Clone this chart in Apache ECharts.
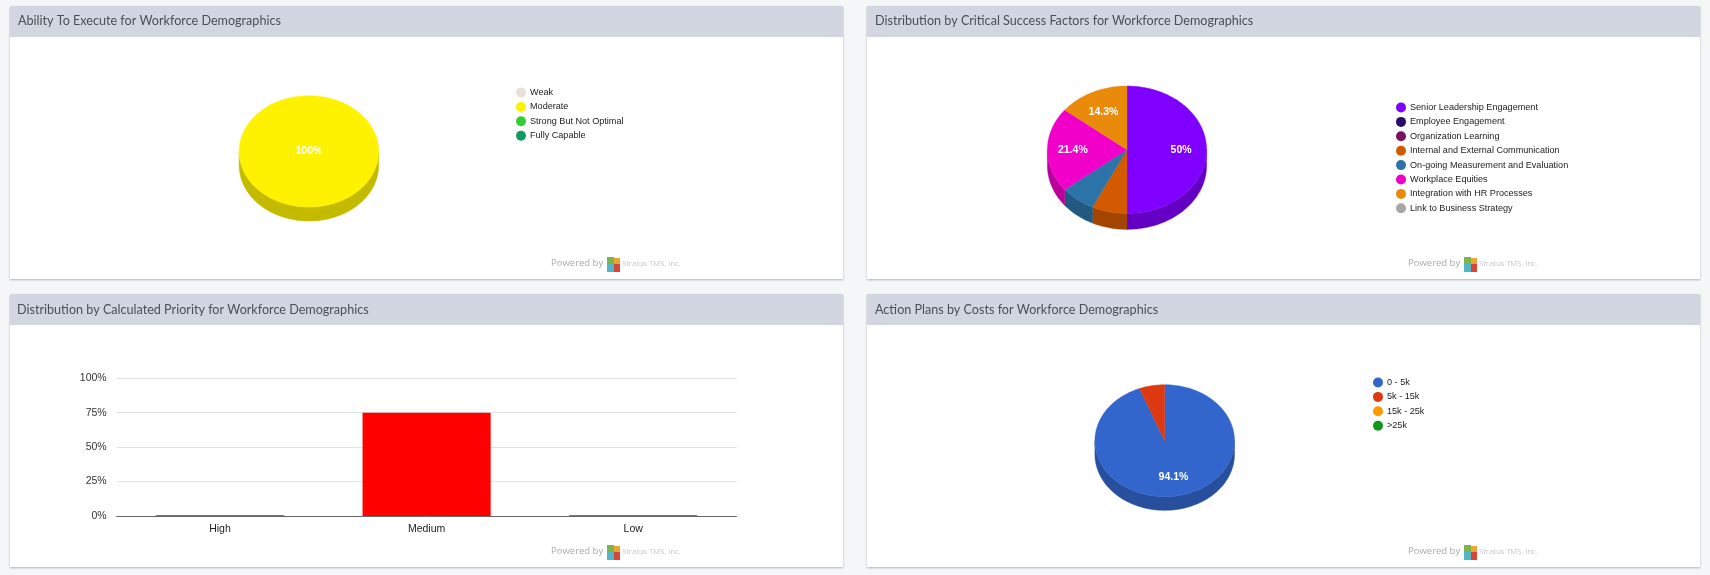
<!DOCTYPE html>
<html>
<head>
<meta charset="utf-8">
<script src="https://cdn.jsdelivr.net/npm/echarts@6/dist/echarts.min.js"></script>
<style>
html, body { margin: 0; padding: 0; background: #f5f6f7; overflow: hidden; }
.card { position: absolute; width: 833px; height: 273px; background: #fff; box-shadow: 0 1px 2px rgba(0,0,0,.28); }
.band { position: absolute; left: 0; top: 0; width: 100%; height: 31px; background: #d2d6e0; }
.chart { position: absolute; left: 0; top: 0; width: 833px; height: 273px; }
</style>
</head>
<body>
<div class="card" style="left:9.5px;top:6px"><div class="band"></div><div class="chart" id="chart1"></div></div>
<div class="card" style="left:867px;top:6px"><div class="band"></div><div class="chart" id="chart2"></div></div>
<div class="card" style="left:9.5px;top:294px"><div class="band"></div><div class="chart" id="chart3"></div></div>
<div class="card" style="left:867px;top:294px"><div class="band"></div><div class="chart" id="chart4"></div></div>
<script>
var executeNames = ['Weak', 'Moderate', 'Strong But Not Optimal', 'Fully Capable'];
var executeValues = [0, 100, 0, 0];
var executeColors = ['#e8e0d8', '#fff200', '#33cc33', '#0d9d63'];

var factorNames = ['Senior Leadership Engagement', 'Employee Engagement', 'Organization Learning',
    'Internal and External Communication', 'On-going Measurement and Evaluation', 'Workplace Equities',
    'Integration with HR Processes', 'Link to Business Strategy'];
var factorValues = [50, 0, 0, 7.14, 7.14, 21.43, 14.29, 0];
var factorColors = ['#8000ff', '#2a0a6a', '#7a1060', '#d45a00', '#2c73a8', '#f000c8', '#e98a0a', '#a6a6a6'];

var priorityNames = ['High', 'Medium', 'Low'];
var priorityValues = [0.5, 75, 0.5];
var priorityTicks = [0, 25, 50, 75, 100];

var costNames = ['0 - 5k', '5k - 15k', '15k - 25k', '>25k'];
var costValues = [94.1, 5.9, 0, 0];
var costColors = ['#3366cc', '#dc3912', '#ff9900', '#109618'];

var LABEL_FONT = '"Liberation Sans", Arial, sans-serif';
var TITLE_FONT = 'Lato, sans-serif';
var FOOT_FONT = '"Open Sans", sans-serif';

// point on the tilted pie, angle in percent of the circle, clockwise from the top
function rimPoint(pie, percent, drop) {
    var a = percent / 100 * Math.PI * 2;
    return [pie.cx + pie.rx * Math.sin(a), pie.cy - pie.ry * Math.cos(a) + drop];
}

function arcPoints(pie, from, to, drop) {
    var pts = [];
    var steps = Math.max(2, Math.ceil((to - from) * 2));
    for (var i = 0; i <= steps; i++) {
        pts.push(rimPoint(pie, from + (to - from) * i / steps, drop));
    }
    return pts;
}

function darken(color) {
    var c = echarts.color.parse(color);
    return 'rgb(' + Math.round(c[0] * 0.77) + ',' + Math.round(c[1] * 0.77) + ',' + Math.round(c[2] * 0.77) + ')';
}

function sliceRenderer(values, index, pie, color) {
    var total = 0, before = 0;
    for (var i = 0; i < values.length; i++) {
        total += values[i];
        if (i < index) before += values[i];
    }
    return function (params, api) {
        var value = api.value(0);
        if (!value) return null;
        var from = before / total * 100;
        var to = (before + value) / total * 100;
        var children = [];
        var top = arcPoints(pie, from, to, 0);
        if (to - from < 100) top.push([pie.cx, pie.cy]);
        children.push({
            type: 'polygon',
            z2: 2,
            shape: { points: top },
            style: { fill: color, stroke: color, lineWidth: 0.4 }
        });
        // only the front half of the rim is visible
        var wallFrom = Math.max(from, 25);
        var wallTo = Math.min(to, 75);
        if (wallTo > wallFrom) {
            var dark = darken(color);
            var wall = arcPoints(pie, wallFrom, wallTo, 0).concat(arcPoints(pie, wallFrom, wallTo, pie.depth).reverse());
            children.push({
                type: 'polygon',
                z2: 1,
                shape: { points: wall },
                style: { fill: dark, stroke: dark, lineWidth: 0.4 }
            });
        }
        if (to - from >= 10) {
            var pos = to - from >= 100 ? [pie.cx, pie.cy] : rimPoint({ cx: pie.cx, cy: pie.cy, rx: pie.rx * 0.68, ry: pie.ry * 0.66 }, (from + to) / 2, 0);
            children.push({
                type: 'text',
                z2: 3,
                style: {
                    x: pos[0], y: pos[1],
                    text: Math.round(value / total * 1000) / 10 + '%',
                    fill: '#fff',
                    font: 'bold 10.5px ' + LABEL_FONT,
                    align: 'center',
                    verticalAlign: 'middle'
                }
            });
        }
        return { type: 'group', children: children };
    };
}

function powered() {
    return [
        { type: 'text', left: 541, top: 252, style: { text: 'Powered by', fill: '#aaaaaa', font: '9.5px ' + FOOT_FONT } },
        { type: 'rect', left: 597, top: 251, shape: { width: 7, height: 7 }, style: { fill: '#7fb24a' } },
        { type: 'rect', left: 604, top: 252, shape: { width: 6, height: 6 }, style: { fill: '#e8a33a' } },
        { type: 'rect', left: 597, top: 258, shape: { width: 7, height: 8 }, style: { fill: '#4fb8c4' } },
        { type: 'rect', left: 604, top: 258, shape: { width: 6, height: 8 }, style: { fill: '#d8453a' } },
        { type: 'text', left: 612, top: 254, style: { text: 'Stratus TMS, Inc.', fill: '#c6c6c6', font: '7.6px ' + FOOT_FONT } }
    ];
}

function titleOf(text, left, top) {
    return {
        text: text,
        left: left,
        top: top,
        padding: 0,
        textStyle: { fontFamily: TITLE_FONT, fontSize: 12.6, fontWeight: 'normal', color: '#4a4f57' }
    };
}

function drawPie(id, title, names, values, colors, pie, legendLeft, legendTop, titleTop) {
    var myChart = echarts.init(document.getElementById(id));
    var series = [];
    for (var i = 0; i < names.length; i++) {
        series.push({
            name: names[i],
            type: 'custom',
            coordinateSystem: 'none',
            silent: true,
            itemStyle: { color: colors[i] },
            renderItem: sliceRenderer(values, i, pie, colors[i]),
            data: [[values[i]]]
        });
    }
    myChart.setOption({
        animation: false,
        title: titleOf(title, 8, titleTop),
        legend: {
            orient: 'vertical',
            left: legendLeft,
            top: legendTop,
            icon: 'circle',
            itemWidth: 10,
            itemHeight: 10,
            itemGap: 4.4,
            padding: 0,
            selectedMode: false,
            textStyle: { fontFamily: LABEL_FONT, fontSize: 9.1, color: '#222', padding: [0, 0, 0, -1] },
            data: names
        },
        graphic: powered(),
        series: series
    });
}

drawPie('chart1', 'Ability To Execute for Workforce Demographics', executeNames, executeValues, executeColors,
    { cx: 298.9, cy: 145.4, rx: 69.8, ry: 55.7, depth: 14 }, 506, 81.5, 8);

drawPie('chart2', 'Distribution by Critical Success Factors for Workforce Demographics', factorNames, factorValues, factorColors,
    { cx: 260, cy: 143.7, rx: 79.6, ry: 63.7, depth: 16 }, 529, 96.5, 8);

drawPie('chart4', 'Action Plans by Costs for Workforce Demographics', costNames, costValues, costColors,
    { cx: 297.7, cy: 146.7, rx: 69.8, ry: 56, depth: 13.7 }, 506, 83.5, 9);

var barChart = echarts.init(document.getElementById('chart3'));
barChart.setOption({
    animation: false,
    title: titleOf('Distribution by Calculated Priority for Workforce Demographics', 7, 9),
    grid: { left: 106.7, right: 106.5, top: 84.3, bottom: 51 },
    xAxis: {
        type: 'category',
        data: priorityNames,
        axisTick: { show: false },
        axisLine: { lineStyle: { color: '#666' } },
        axisLabel: { margin: 8, fontFamily: LABEL_FONT, fontSize: 10.5, color: '#222' }
    },
    yAxis: {
        type: 'value',
        min: priorityTicks[0],
        max: priorityTicks[priorityTicks.length - 1],
        interval: priorityTicks[1] - priorityTicks[0],
        axisLine: { show: false },
        axisTick: { show: false },
        axisLabel: { margin: 10, fontFamily: LABEL_FONT, fontSize: 10.5, color: '#333', formatter: '{value}%' },
        splitLine: { lineStyle: { color: '#e2e2e2' } }
    },
    graphic: powered(),
    series: [{
        name: 'Priority',
        type: 'bar',
        barWidth: '62%',
        silent: true,
        itemStyle: { color: '#ff0000' },
        data: priorityValues
    }]
});
</script>
</body>
</html>
